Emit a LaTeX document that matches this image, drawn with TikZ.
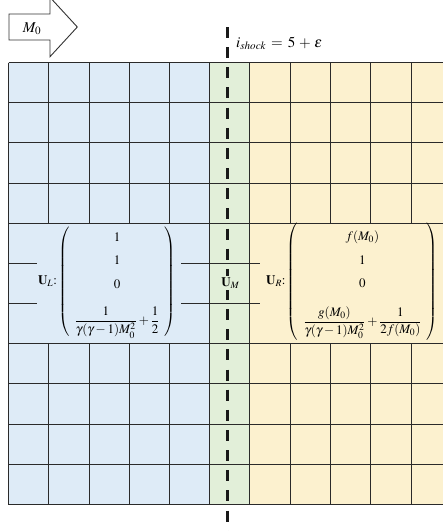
\documentclass[tikz,border=0pt]{standalone}
\usepackage{amsmath}
\usepackage{mathptmx}
\definecolor{cblue}{HTML}{DEEBF7}
\definecolor{cgreen}{HTML}{E2EFD9}
\definecolor{cyellow}{HTML}{FCF1CF}
\definecolor{cline}{HTML}{2A2A2A}
\begin{document}
\begin{tikzpicture}[x=1pt,y=-1pt,
  gridline/.style={line width=1.05pt, draw=cline},
  shockline/.style={line width=3pt, draw=black!90, dash pattern=on 11pt off 9.15pt},
  mathlabel/.style={inner sep=0pt, font=\fontsize{13}{15.6}\selectfont}]
\useasboundingbox (0,0) rectangle (443,531);
\clip (0,0) rectangle (443,531);
% column and row positions (pixel centres)
\def\xa{8.5}\def\xf{209.5}\def\xg{249.5}\def\xl{451.5}
\def\ya{62.5}\def\yd{183.5}\def\ye{223.5}\def\yh{343.5}\def\yl{504.5}
% fills
\fill[cblue] (\xa,\ya) rectangle (\xf,\yl);
\fill[cgreen] (\xf,\ya) rectangle (\xg,\yl);
\fill[cyellow] (\xg,\ya) rectangle (\xl,\yl);
% horizontal grid lines
\foreach \y in {62.5,102.5,142.5,183.5,223.5,343.5,383.5,424.5,464.5,504.5}
  \draw[gridline] (\xa,\y) -- (\xl,\y);
% vertical grid lines
\foreach \x in {8.5,48.5,89.5,129.5,169.5,209.5,249.5,290.5,330.5,370.5,411.5,451.5} {
  \draw[gridline] (\x,\ya) -- (\x,\ye);
  \draw[gridline] (\x,\yh) -- (\x,\yl);
}
\foreach \x in {8.5,209.5,249.5}
  \draw[gridline] (\x,\ya) -- (\x,\yl);
% stubs in the middle band
\foreach \y in {263.5,303.5} {
  \draw[gridline] (\xa,\y) -- (37,\y);
  \draw[gridline] (181,\y) -- (260,\y);
}
% shock line
\coordinate (st) at (227.5,27);
\coordinate (sb) at (227.5,531);
\draw[shockline] (st) -- (sb);
% state vectors
\node[mathlabel] (UL) at (107,281.5) {\renewcommand{\arraystretch}{1.5}$\mathbf{U}_{L}\mathbf{:}\left(\begin{array}{c}1\\1\\0\\[12pt]\dfrac{1}{\gamma(\gamma-1)M_0^2}+\dfrac{1}{2}\end{array}\right)$};
\node[mathlabel] (UR) at (352,281.5) {\renewcommand{\arraystretch}{1.5}$\mathbf{U}_{R}\mathbf{:}\left(\begin{array}{c}f(M_0)\\1\\0\\[12pt]\dfrac{g(M_0)}{\gamma(\gamma-1)M_0^2}+\dfrac{1}{2f(M_0)}\end{array}\right)$};
\node[fill=cgreen, inner sep=1.5pt, font=\fontsize{13}{15.6}\selectfont] (UM) at (230.5,283) {$\mathbf{U}_{M}$};
% inflow arrow
\draw[line width=0.9pt, draw=black!80, fill=white] (9,14) -- (50,14) -- (50,-2.7) -- (77.3,27) -- (50,56.7) -- (50,40) -- (9,40) -- cycle;
\node[inner sep=0pt, font=\fontsize{15}{18}\selectfont] (M0) at (32,28.5) {$M_0$};
% shock label
\node[anchor=base west, inner sep=0pt, font=\fontsize{15}{18}\selectfont] (lab) at (236,47) {$i_{shock}\,=\,5\,+\,\varepsilon$};
\end{tikzpicture}
\end{document}
